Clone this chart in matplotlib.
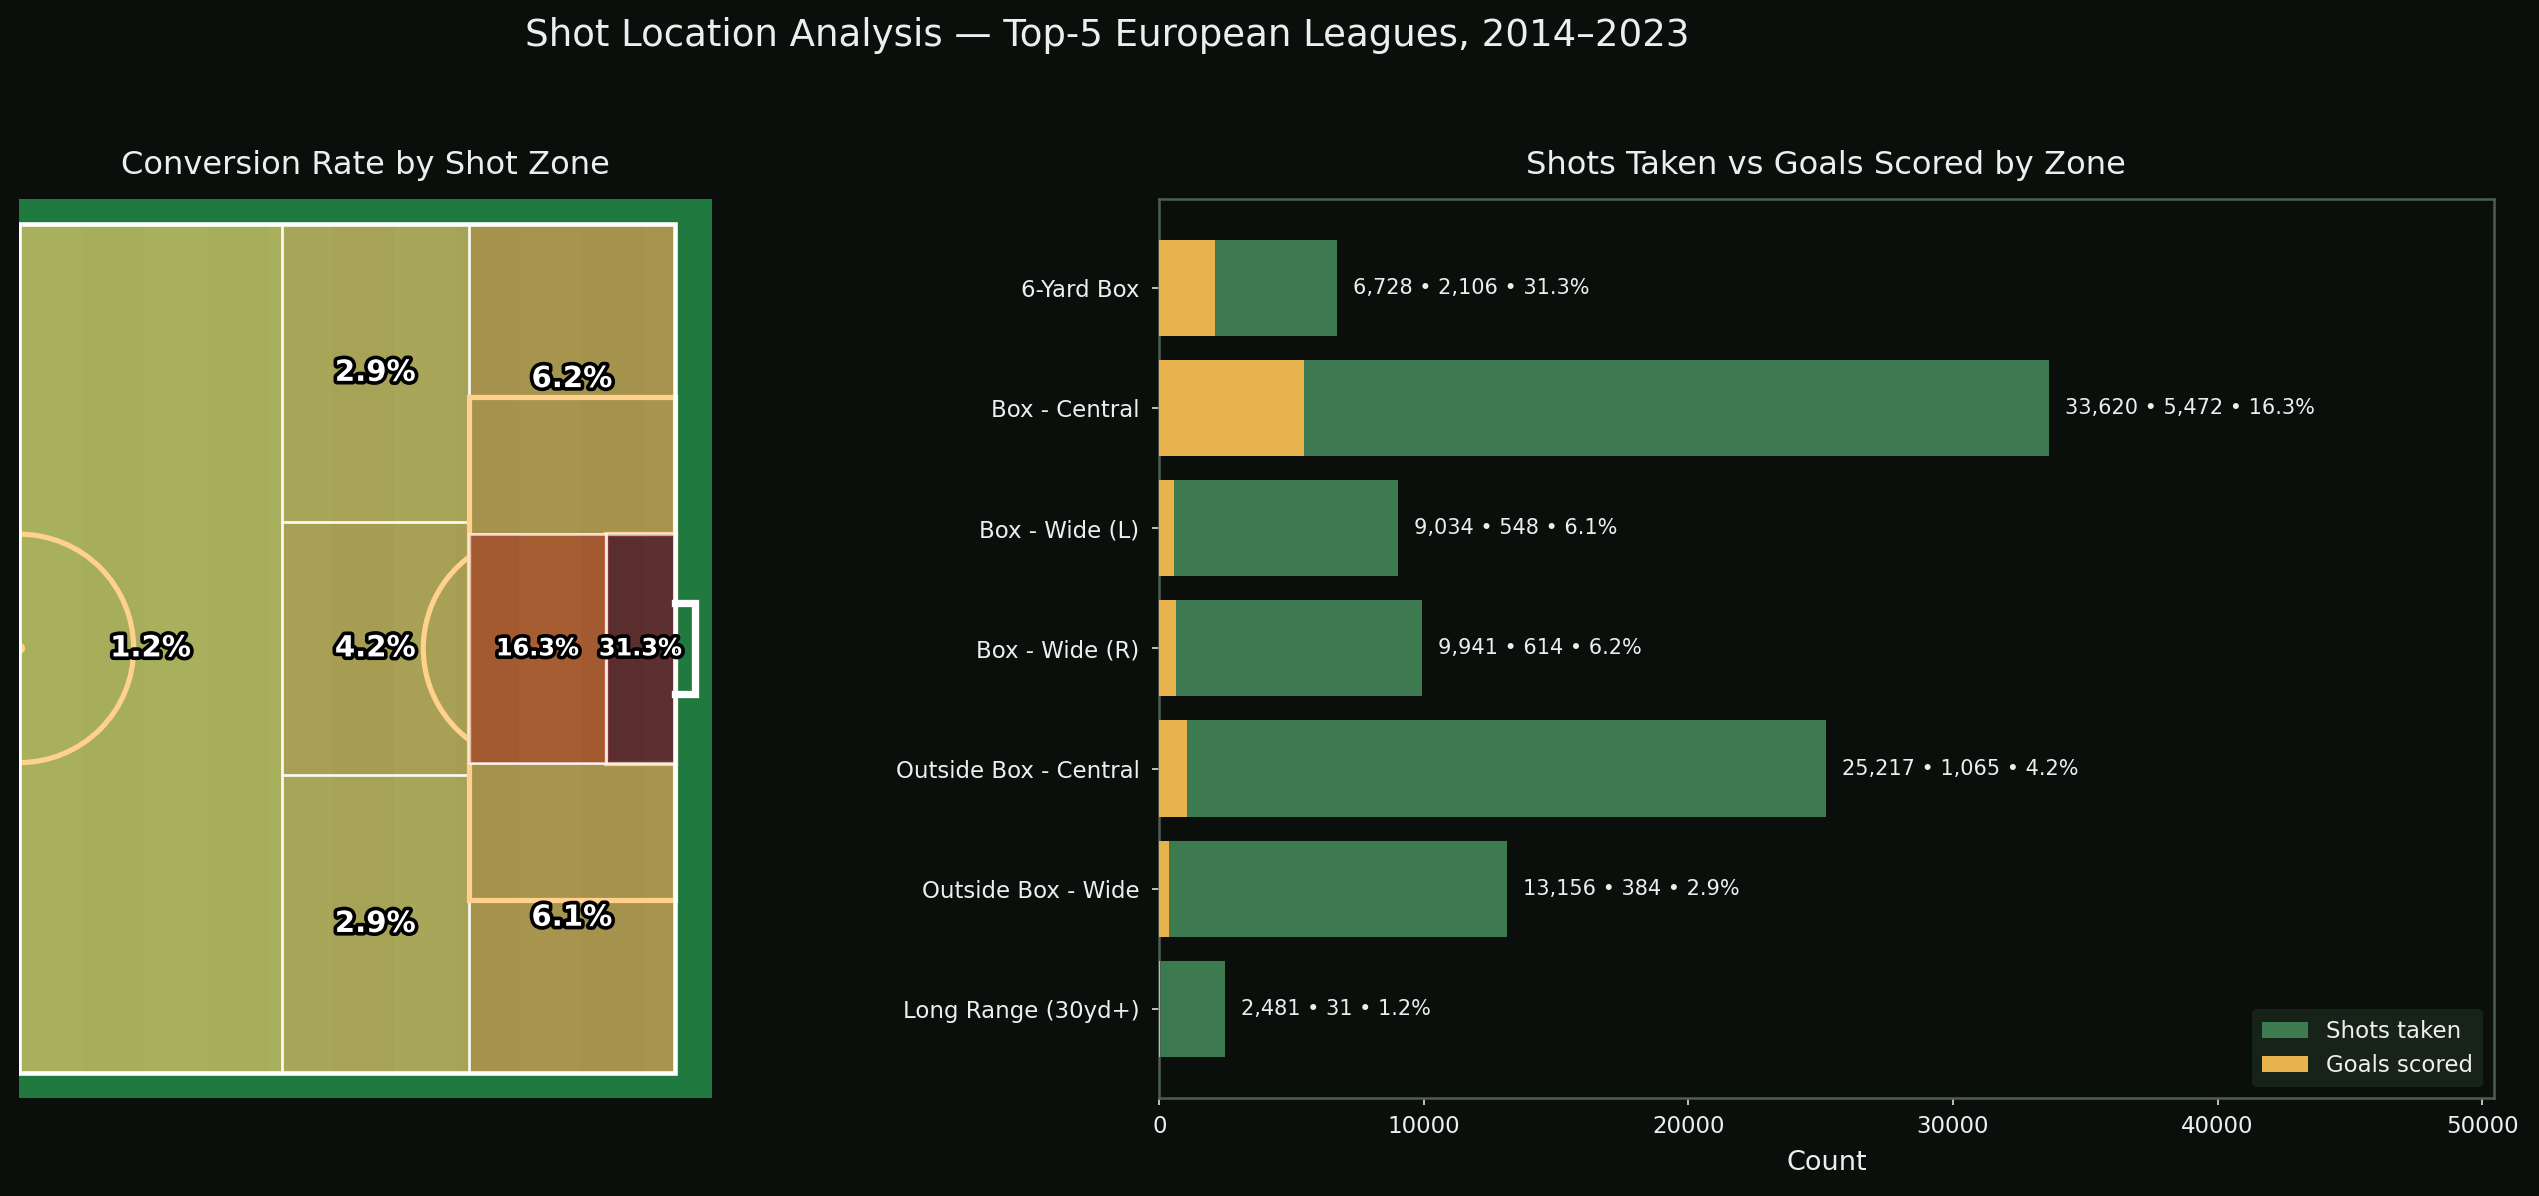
import numpy as np
import matplotlib
matplotlib.use("Agg")
import matplotlib.pyplot as plt
from matplotlib.patches import Rectangle, Arc, Circle
from matplotlib.colors import LinearSegmentedColormap, Normalize
import matplotlib.patheffects as pe

# ---------------- data ----------------
zones = ["6-Yard Box", "Box - Central", "Box - Wide (L)", "Box - Wide (R)",
         "Outside Box - Central", "Outside Box - Wide", "Long Range (30yd+)"]
shots = [6728, 33620, 9034, 9941, 25217, 13156, 2481]
goals = [2106, 5472, 548, 614, 1065, 384, 31]

rates = {z: 100.0 * g / s for z, s, g in zip(zones, shots, goals)}

# ---------------- style ----------------
BG = "#0b0f0c"
TXT = "#eeeeee"
SHOT_C = "#3d7a50"
GOAL_C = "#e8b24c"
SURROUND = "#207a40"
STRIPES = ["#2e8f4e", "#1f7a40"]
MARK = "#ffd18c"

# pitch dimensions (metres)
L, W = 105.0, 68.0
HALF = L / 2
BOX_D, BOX_W = 16.5, 40.32
SIX_D, SIX_W = 5.5, 18.32
LONG_X = L - 31.5
PEN_SPOT = 11.0
R = 9.15
GOAL_W = 7.32

fig = plt.figure(figsize=(2539 / 150, 1196 / 150), dpi=150, facecolor=BG)

# ---------------- pitch panel ----------------
ax1 = fig.add_axes([0.00765, 0.0822, 0.2729, 0.7513])
ax1.set_xlim(HALF, L + 3)
ax1.set_ylim(-2, W + 2)
ax1.set_aspect("equal", adjustable="datalim")
ax1.axis("off")
ax1.add_patch(Rectangle((HALF, -2), L + 3 - HALF, W + 4, fc=SURROUND, ec="none", zorder=0))

for i, x0 in enumerate(np.arange(HALF, L, 5.0)):
    ax1.add_patch(Rectangle((x0, 0), min(5.0, L - x0), W, fc=STRIPES[i % 2],
                            ec="none", zorder=1))

cmap = LinearSegmentedColormap.from_list("conv", ["#bdb660", "#bb552e", "#64212c"])
vals = list(rates.values())
norm = Normalize(min(vals), max(vals))

box_x = L - BOX_D
six_x = L - SIX_D
box_lo, box_hi = (W - BOX_W) / 2, (W + BOX_W) / 2
six_lo, six_hi = (W - SIX_W) / 2, (W + SIX_W) / 2
oc_lo, oc_hi = box_lo + 10, box_hi - 10

zone_rects = [
    ("Long Range (30yd+)", (HALF, 0), LONG_X - HALF, W, 2, 14),
    ("Outside Box - Wide", (LONG_X, oc_hi), box_x - LONG_X, W - oc_hi, 2, 14),
    ("Outside Box - Wide", (LONG_X, 0), box_x - LONG_X, oc_lo, 2, 14),
    ("Outside Box - Central", (LONG_X, oc_lo), box_x - LONG_X, oc_hi - oc_lo, 2, 14),
    ("Box - Wide (R)", (box_x, six_hi), L - box_x, W - six_hi, 2, 14),
    ("Box - Wide (L)", (box_x, 0), L - box_x, six_lo, 2, 14),
    ("Box - Central", (box_x, six_lo), six_x - box_x, six_hi - six_lo, 4, 11.5),
    ("6-Yard Box", (six_x, six_lo), L - six_x, six_hi - six_lo, 4, 11.5),
]
for name, (x0, y0), w, h, z, fs in zone_rects:
    ax1.add_patch(Rectangle((x0, y0), w, h, fc=cmap(norm(rates[name])), alpha=0.86,
                            ec="none", zorder=z))
    ax1.add_patch(Rectangle((x0, y0), w, h, fill=False, ec=(1, 1, 1, 0.75), lw=1.2,
                            zorder=z + 0.1))
    ax1.text(x0 + w / 2, y0 + h / 2, f"{rates[name]:.1f}%", ha="center", va="center",
             color="white", fontsize=fs, fontweight="bold", zorder=6,
             path_effects=[pe.withStroke(linewidth=3.5, foreground="black")])

# markings
ax1.add_patch(Rectangle((box_x, box_lo), BOX_D, BOX_W, fill=False, ec=MARK, lw=2.5, zorder=3))
ax1.add_patch(Rectangle((six_x, six_lo), SIX_D, SIX_W, fill=False, ec=MARK, lw=2.5, zorder=3))
ax1.add_patch(Arc((HALF, W / 2), 2 * R, 2 * R, theta1=-90, theta2=90, ec=MARK, lw=2.5, zorder=3))
ang = np.degrees(np.arccos((BOX_D - PEN_SPOT) / R))
ax1.add_patch(Arc((L - PEN_SPOT, W / 2), 2 * R, 2 * R, theta1=180 - ang, theta2=180 + ang,
                  ec=MARK, lw=2.5, zorder=3))
ax1.add_patch(Circle((HALF, W / 2), 0.45, fc=MARK, ec="none", zorder=3))
ax1.add_patch(Circle((L - PEN_SPOT, W / 2), 0.35, fc="#ff8a70", ec="none", zorder=3))
ax1.add_patch(Rectangle((HALF, 0), L - HALF, W, fill=False, ec="white", lw=2.2, zorder=5))
ax1.plot([L, L + 1.6, L + 1.6, L], [W / 2 - GOAL_W / 2, W / 2 - GOAL_W / 2,
                                    W / 2 + GOAL_W / 2, W / 2 + GOAL_W / 2],
         color="white", lw=3.5, zorder=5, solid_joinstyle="miter")
ax1.set_title("Conversion Rate by Shot Zone", color=TXT, fontsize=15.4, pad=12)

# ---------------- bar panel ----------------
ax2 = fig.add_axes([0.4566, 0.0822, 0.5255, 0.7513], facecolor=BG)
y = np.arange(len(zones))
ax2.barh(y, shots, height=0.8, color=SHOT_C, label="Shots taken", zorder=2)
ax2.barh(y, goals, height=0.8, color=GOAL_C, label="Goals scored", zorder=3)
ax2.set_yticks(y)
ax2.set_yticklabels(zones)
ax2.invert_yaxis()
ax2.set_xlim(0, max(shots) * 1.5)
off = max(shots) * 0.018
for yi, s, g in zip(y, shots, goals):
    ax2.text(s + off, yi, f"{s:,} \u2022 {g:,} \u2022 {100 * g / s:.1f}%", va="center",
             ha="left", color=TXT, fontsize=10)
ax2.set_xlabel("Count", color=TXT, fontsize=13, labelpad=5.5)
ax2.set_title("Shots Taken vs Goals Scored by Zone", color=TXT, fontsize=15.4, pad=12)
for sp in ax2.spines.values():
    sp.set_color("#4d5e50")
    sp.set_linewidth(1.2)
ax2.tick_params(colors="#dddddd", labelcolor=TXT, labelsize=11)
ax2.tick_params(axis="y", pad=6)
ax2.tick_params(axis="x", pad=5)
leg = ax2.legend(loc="lower right", facecolor="#172319", edgecolor="#172319",
                 labelcolor=TXT, fontsize=11, framealpha=1)

fig.suptitle("Shot Location Analysis \u2014 Top-5 European Leagues, 2014\u20132023",
             color=TXT, fontsize=17.8, x=0.436, y=0.970, va="center")

fig.savefig("out.png", dpi=150, facecolor=BG)
